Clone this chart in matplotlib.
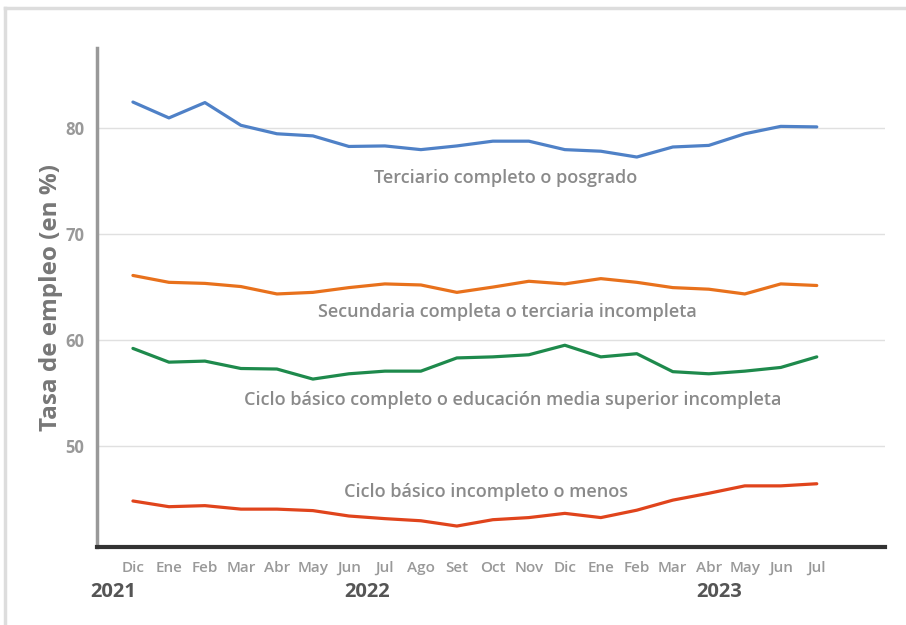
import matplotlib.pyplot as plt
from matplotlib.lines import Line2D
import numpy as np

plt.rcParams['font.family'] = ['Open Sans', 'DejaVu Sans']

months = ["Dic", "Ene", "Feb", "Mar", "Abr", "May", "Jun", "Jul", "Ago", "Set",
          "Oct", "Nov", "Dic", "Ene", "Feb", "Mar", "Abr", "May", "Jun", "Jul"]

terciario = [82.5, 81.0, 82.45, 80.3, 79.5, 79.3, 78.3, 78.35, 78.0, 78.35,
             78.8, 78.8, 78.0, 77.85, 77.3, 78.25, 78.4, 79.5, 80.2, 80.15]
secundaria = [66.1, 65.45, 65.35, 65.05, 64.35, 64.5, 64.95, 65.3, 65.2, 64.5,
              65.0, 65.55, 65.3, 65.8, 65.45, 64.95, 64.8, 64.35, 65.3, 65.15]
ciclo_completo = [59.2, 57.9, 58.0, 57.3, 57.25, 56.3, 56.8, 57.05, 57.05, 58.3,
                  58.4, 58.6, 59.5, 58.4, 58.7, 57.0, 56.8, 57.05, 57.4, 58.4]
ciclo_incompleto = [44.77, 44.23, 44.33, 44.0, 44.0, 43.86, 43.35, 43.1, 42.9, 42.4,
                    43.0, 43.2, 43.6, 43.2, 43.9, 44.85, 45.5, 46.2, 46.2, 46.4]

series_labels = ["Terciario completo o posgrado",
                 "Secundaria completa o terciaria incompleta",
                 "Ciclo básico completo o educación media superior incompleta",
                 "Ciclo básico incompleto o menos"]
years = ["2021", "2022", "2023"]

fig = plt.figure(figsize=(9.06, 6.25), dpi=100)
ax = fig.add_axes([0.107, 0.125, 0.87, 0.798])

x = np.arange(len(months))
colors = ["#4f81c7", "#e8711c", "#1e8a4c", "#e0441c"]
for vals, c in zip([terciario, secundaria, ciclo_completo, ciclo_incompleto], colors):
    ax.plot(x, vals, color=c, lw=2.3, solid_capstyle="round")

ax.set_xlim(-1, 20.9)
ax.set_ylim(40.43, 87.6)
ax.set_yticks([50, 60, 70, 80])
ax.grid(axis="y", color="#e0e0e0", lw=1)
ax.set_axisbelow(True)
for s in ["top", "right"]:
    ax.spines[s].set_visible(False)
ax.spines["left"].set_color("#999999")
ax.spines["left"].set_linewidth(2.5)
ax.spines["bottom"].set_color("#333333")
ax.spines["bottom"].set_linewidth(3)

ax.tick_params(axis="y", length=0, pad=9, labelsize=12, labelcolor="#999999")
for t in ax.get_yticklabels():
    t.set_fontweight("bold")
ax.set_xticks(x)
ax.set_xticklabels(months)
ax.tick_params(axis="x", length=0, pad=10, labelsize=11, labelcolor="#999999")
for t in ax.get_xticklabels():
    t.set_fontweight("semibold")

ax.set_ylabel("Tasa de empleo (en %)", fontsize=17.5, fontweight="bold", color="#777777", labelpad=2)

# year labels under the months
for yr, xi in zip(years, [-0.55, 6.5, 16.3]):
    ax.text(xi, -0.09, yr, transform=ax.get_xaxis_transform(), ha="center", va="center",
            fontsize=14.5, fontweight="bold", color="#555555")

# inline series labels
label_pos = [(10.35, 75.3), (10.4, 62.65), (10.55, 54.33), (9.82, 45.63)]
for lab, (lx, ly) in zip(series_labels, label_pos):
    ax.text(lx, ly, lab, ha="center", va="center", fontsize=13,
            fontweight="semibold", color="#8a8a8a")

# light frame along top and left edge
fig.add_artist(Line2D([0.005, 1.0], [0.987, 0.987], transform=fig.transFigure, color="#dddddd", lw=2.5))
fig.add_artist(Line2D([0.0055, 0.0055], [0.0, 0.987], transform=fig.transFigure, color="#dddddd", lw=2.5))

plt.savefig("out.png", dpi=100)
plt.close()
